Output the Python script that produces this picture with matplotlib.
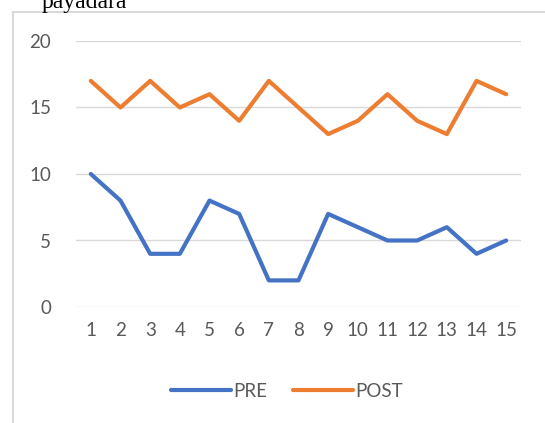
import matplotlib.pyplot as plt
from matplotlib.lines import Line2D

days = [str(i) for i in range(1, 16)]
pre = [10, 8, 4, 4, 8, 7, 2, 2, 7, 6, 5, 5, 6, 4, 5]
post = [17, 15, 17, 15, 16, 14, 17, 15, 13, 14, 16, 14, 13, 17, 16]
yticks = [0, 5, 10, 15, 20]

plt.rcParams['font.family'] = ['Lato', 'DejaVu Sans']
W, H = 545, 423
fig = plt.figure(figsize=(W / 100, H / 100), dpi=100)

# chart frame (left and top edges visible)
border = '#d9d9d9'
fig.add_artist(Line2D([13 / W, 13 / W], [0, 1 - 12 / H], color=border, lw=1.5))
fig.add_artist(Line2D([13 / W, 1], [1 - 12 / H, 1 - 12 / H], color=border, lw=1.5))

# clipped title at the top
fig.text(84 / W, 1 - 8 / H, 'payadara', family=['Liberation Serif'], fontsize=17,
         ha='center', va='baseline', color='black')

ax = fig.add_axes([76 / W, 1 - 307 / H, (521 - 76) / W, (307 - 41) / H])
x = list(range(len(days)))
ax.plot(x, pre, color='#4472C4', lw=3, solid_capstyle='round', solid_joinstyle='round', label='PRE')
ax.plot(x, post, color='#ED7D31', lw=3, solid_capstyle='round', solid_joinstyle='round', label='POST')

ax.set_xlim(-0.5, len(days) - 0.5)
ax.set_ylim(0, 20)
ax.set_xticks(x)
ax.set_xticklabels(days)
ax.set_yticks(yticks)
ax.grid(axis='y', color='#d9d9d9', lw=1)
ax.set_axisbelow(True)
for s in ax.spines.values():
    s.set_visible(False)
ax.tick_params(length=0, colors='#595959', labelsize=13.5)
ax.tick_params(axis='x', pad=11)
ax.tick_params(axis='y', pad=18)

fig.legend(loc='center', bbox_to_anchor=(287 / W, 1 - 391 / H), ncol=2, frameon=False,
           fontsize=13.5, labelcolor='#595959', handlelength=3.2, handletextpad=0.1,
           columnspacing=1.4)

fig.savefig('out.png', dpi=100)
